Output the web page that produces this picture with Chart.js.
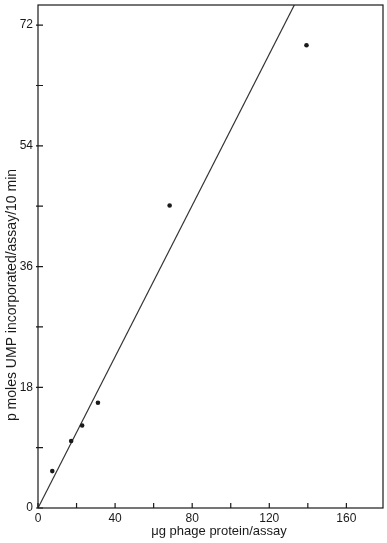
<!DOCTYPE html>
<html>
<head>
<meta charset="utf-8">
<script src="https://cdn.jsdelivr.net/npm/chart.js@4.4.0/dist/chart.umd.min.js"></script>
<style>
	body { margin: 0; background: #fff; }
	#chart { display: block; }
</style>
</head>
<body>
<canvas id="chart" width="387" height="543"></canvas>
<script>
// measured points
const proteinUg = [7.4, 17.2, 22.9, 31.1, 68.3, 139.3];
const umpPmol = [5.5, 10.0, 12.3, 15.7, 45.1, 69.0];

// fitted line (through origin, leaves the frame at the top)
const fitX = [0, 133];
const fitY = [0, 75];

// axis ticks
const xLabelTicks = [0, 40, 80, 120, 160];
const yLabelTicks = [0, 18, 36, 54, 72];
const xTitle = "\u03bcg phage protein/assay";
const yTitle = "p moles UMP incorporated/assay/10 min";

const ink = "#1a1a1a";
const tickFont = { family: "Liberation Sans", size: 12 };

// frame + inward tick marks + axis titles
const framePlugin = {
	id: "frame",
	afterDraw(chart) {
		const ctx = chart.ctx;
		const a = chart.chartArea;
		const xs = chart.scales.x;
		const ys = chart.scales.y;
		ctx.save();
		ctx.strokeStyle = ink;
		ctx.lineWidth = 1.2;
		ctx.strokeRect(a.left, a.top, a.right - a.left, a.bottom - a.top);

		ctx.beginPath();
		xs.ticks.forEach((t) => {
			if (t.value % 20 !== 0) return;
			const px = xs.getPixelForValue(t.value);
			ctx.moveTo(px, a.bottom);
			ctx.lineTo(px, a.bottom - 5);
		});
		ys.ticks.forEach((t) => {
			if (t.value % 9 !== 0) return;
			const py = ys.getPixelForValue(t.value);
			ctx.moveTo(a.left - 2, py);
			ctx.lineTo(a.left + 5, py);
		});
		ctx.stroke();

		ctx.fillStyle = ink;
		ctx.font = "13px 'Liberation Sans'";
		ctx.textAlign = "center";
		ctx.textBaseline = "middle";
		ctx.fillText(xTitle, 219, 531);

		ctx.font = "14px 'Liberation Sans'";
		ctx.translate(12, 295);
		ctx.rotate(-Math.PI / 2);
		ctx.fillText(yTitle, 0, 0);
		ctx.restore();
	}
};

const ctx1 = document.getElementById("chart");
const config1 = {
	type: "scatter",
	data: {
		datasets: [{
			label: "data",
			data: proteinUg.map((x, i) => ({ x: x, y: umpPmol[i] })),
			pointRadius: 2.3,
			pointBackgroundColor: ink,
			pointBorderWidth: 0,
			showLine: false
		}, {
			label: "fit",
			data: fitX.map((x, i) => ({ x: x, y: fitY[i] })),
			showLine: true,
			pointRadius: 0,
			borderColor: "#333",
			borderWidth: 1.2
		}]
	},
	options: {
		responsive: false,
		animation: false,
		layout: { padding: { top: 5, right: 2, left: 0, bottom: 0 } },
		plugins: {
			legend: { display: false },
			tooltip: { enabled: false }
		},
		scales: {
			x: {
				type: "linear",
				min: 0,
				max: 179,
				afterFit: (s) => {
					s.height = 35;
					s.paddingLeft = 0;
					s.paddingRight = 0;
				},
				grid: { display: false, drawTicks: false },
				border: { display: false },
				ticks: {
					stepSize: 20,
					autoSkip: false,
					maxRotation: 0,
					padding: 3,
					color: ink,
					font: tickFont,
					callback: (v) => xLabelTicks.includes(v) ? v : ""
				}
			},
			y: {
				min: 0,
				max: 75,
				afterFit: (s) => {
					s.width = 38;
					s.paddingTop = 0;
					s.paddingBottom = 0;
				},
				grid: { display: false, drawTicks: false },
				border: { display: false },
				ticks: {
					stepSize: 9,
					autoSkip: false,
					padding: 5,
					color: ink,
					font: tickFont,
					callback: (v) => yLabelTicks.includes(v) ? v : ""
				}
			}
		}
	},
	plugins: [framePlugin]
};
const chart1 = new Chart(ctx1, config1);
</script>
</body>
</html>
